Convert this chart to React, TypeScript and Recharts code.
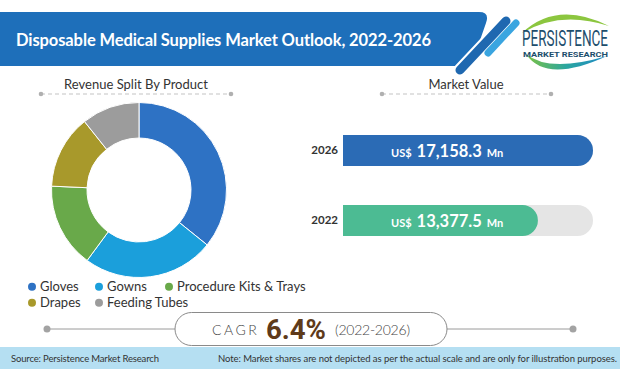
import React from 'react';
import { PieChart, Pie, Cell, BarChart, Bar, XAxis, YAxis, LabelList } from 'recharts';

const titleText = 'Disposable Medical Supplies Market Outlook, 2022-2026';
const pieTitle = 'Revenue Split By Product';
const barTitle = 'Market Value';

const products = ['Gloves', 'Gowns', 'Procedure Kits & Trays', 'Drapes', 'Feeding Tubes'];
const productShares = [35.8, 24.3, 15.6, 13.6, 10.7];
const productColors = ['#2e72c4', '#1b9fdb', '#69a94a', '#a8992b', '#9c9c9c'];

const years = ['2026', '2022'];
const marketValues = [17158.3, 13377.5];
const yearColors = ['#2b6bb5', '#4cbb93'];

const cagrLabel = 'CAGR';
const cagrValue = '6.4%';
const cagrPeriod = '(2022-2026)';
const sourceText = 'Source: Persistence Market Research';
const noteText =
  'Note: Market shares are not depicted as per the actual scale and are only for illustration purposes.';
const logoName = 'PERSISTENCE';
const logoSub = 'MARKET RESEARCH';

const pieData = products.map((name, i) => ({ name, value: productShares[i] }));
const barData = years.map((year, i) => ({ year, value: marketValues[i] }));

const FONT = 'Lato, "Open Sans", sans-serif';
const legendColX = [32, 99, 169];
const legendRowY = [286.7, 302.7];

const formatValue = (v: number) =>
  Number(v).toLocaleString('en-US', { minimumFractionDigits: 1, maximumFractionDigits: 1 });

const ValueLabel = (props: any) => {
  const { x, y, height, value } = props;
  const cy = Number(y) + Number(height) / 2;
  return (
    <text x={Number(x) + 48} y={cy + 6.5} fill="#fff" fontFamily={FONT} fontWeight={700}>
      <tspan fontSize={11}>US$</tspan>
      <tspan fontSize={16.5} dx={5}>{formatValue(value)}</tspan>
      <tspan fontSize={11} dx={5}>Mn</tspan>
    </text>
  );
};

export default function App() {
  return (
    <div
      style={{
        position: 'absolute',
        left: 0,
        top: 0,
        width: 620,
        height: 369,
        background: '#ffffff',
        overflow: 'hidden',
        fontFamily: FONT,
      }}
    >
      <svg width={620} height={369} style={{ position: 'absolute', left: 0, top: 0 }}>
        <defs>
          <linearGradient id="swoosh" x1="0" y1="0" x2="1" y2="0">
            <stop offset="0" stopColor="#7dc242" />
            <stop offset="0.5" stopColor="#2aa6a0" />
            <stop offset="1" stopColor="#1e88c7" />
          </linearGradient>
        </defs>
        {/* header banner */}
        <path d="M0,12 L479,12 Q490,12 486,23 L471,66 L0,66 Z" fill="#1e6fba" />
        <line x1={506} y1={21} x2={460} y2={70} stroke="#ffffff" strokeWidth={13} strokeLinecap="round" />
        <line x1={506} y1={21} x2={460} y2={70} stroke="#1f68b0" strokeWidth={9} strokeLinecap="round" />
        <line x1={516} y1={23} x2={488} y2={53} stroke="#3aa5e0" strokeWidth={7} strokeLinecap="round" />
        <text x={16} y={45.5} fill="#ffffff" fontSize={16.5} fontWeight={700} fontFamily={FONT} textLength={415}>
          {titleText}
        </text>
        {/* logo */}
        <path d="M522,33 Q557,0 609,26 Q560,10 522,33 Z" fill="#8cc63f" />
        <path d="M526,54 Q546,84 607,56 Q549,73 526,54 Z" fill="url(#swoosh)" />
        <g transform="translate(522,45.5) scale(1,1.7)">
          <text
            x={0}
            y={0}
            fill="#1d4e6d"
            fontSize={13}
            fontFamily="Roboto, sans-serif"
            textLength={86}
            lengthAdjust="spacingAndGlyphs"
          >
            {logoName}
          </text>
        </g>
        <text
          x={523}
          y={56.5}
          fill="#1d4e6d"
          fontSize={6.5}
          fontWeight={700}
          fontFamily="Roboto, sans-serif"
          textLength={85}
          lengthAdjust="spacingAndGlyphs"
        >
          {logoSub}
        </text>

        {/* section titles */}
        <text x={136} y={88.5} textAnchor="middle" fill="#333" fontSize={13} fontFamily={FONT}>
          {pieTitle}
        </text>
        <line x1={41} y1={94} x2={231} y2={94} stroke="#c4c4c4" strokeWidth={1.2} strokeDasharray="4 3" />
        <circle cx={41} cy={94} r={2.3} fill="#b0b0b0" />
        <circle cx={231} cy={94} r={2.3} fill="#b0b0b0" />

        <text x={466} y={88.5} textAnchor="middle" fill="#333" fontSize={13} fontFamily={FONT}>
          {barTitle}
        </text>
        <line x1={382} y1={94} x2={551} y2={94} stroke="#c4c4c4" strokeWidth={1.2} strokeDasharray="4 3" />
        <circle cx={382} cy={94} r={2.3} fill="#b0b0b0" />
        <circle cx={551} cy={94} r={2.3} fill="#b0b0b0" />

        {/* pie legend */}
        {products.map((name, i) => {
          const row = i < 3 ? 0 : 1;
          const col = i < 3 ? i : i - 3;
          const cx = legendColX[col];
          const cy = legendRowY[row];
          return (
            <g key={name}>
              <circle cx={cx} cy={cy} r={4} fill={productColors[i]} />
              <text x={cx + 8} y={cy + 4.2} fill="#333" fontSize={13} fontFamily={FONT}>
                {name}
              </text>
            </g>
          );
        })}

        {/* CAGR */}
        <line x1={47} y1={329} x2={175} y2={329} stroke="#9a9a9a" strokeWidth={1} />
        <line x1={447} y1={329} x2={573} y2={329} stroke="#9a9a9a" strokeWidth={1} />
        <circle cx={47} cy={329} r={3.5} fill="#a3a3a3" />
        <circle cx={573} cy={329} r={3.5} fill="#a3a3a3" />
        <rect x={175} y={312.5} width={272} height={33} rx={16.5} fill="#ffffff" stroke="#8a8a8a" strokeWidth={1} />
        <text x={212} y={335} fill="#444" fontSize={14} fontWeight={300} letterSpacing={2.5} fontFamily={FONT}>
          {cagrLabel}
        </text>
        <text
          x={266}
          y={338.5}
          fill="#5e3a1a"
          fontSize={28}
          fontWeight={700}
          fontFamily="Roboto, sans-serif"
          textLength={60}
          lengthAdjust="spacingAndGlyphs"
        >
          {cagrValue}
        </text>
        <text x={335} y={335} fill="#444" fontSize={14} fontWeight={300} fontFamily={FONT} textLength={75}>
          {cagrPeriod}
        </text>

        {/* footer */}
        <rect x={0} y={347} width={620} height={22} fill="#b5dff2" />
        <text x={11} y={362} fill="#333" fontSize={9.5} fontFamily={FONT} textLength={148}>
          {sourceText}
        </text>
        <text x={218} y={362} fill="#333" fontSize={9.5} fontFamily={FONT} textLength={399}>
          {noteText}
        </text>
      </svg>

      <div style={{ position: 'absolute', left: 39, top: 90, width: 200, height: 200 }}>
        <PieChart width={200} height={200} margin={{ top: 0, right: 0, bottom: 0, left: 0 }}>
          <Pie
            data={pieData}
            dataKey="value"
            nameKey="name"
            cx={100}
            cy={100}
            innerRadius={52}
            outerRadius={87.5}
            startAngle={90}
            endAngle={-270}
            stroke="#ffffff"
            strokeWidth={1}
            isAnimationActive={false}
          >
            {pieData.map((d, i) => (
              <Cell key={d.name} fill={productColors[i]} />
            ))}
          </Pie>
        </PieChart>
      </div>

      <div style={{ position: 'absolute', left: 300, top: 115, width: 300, height: 140 }}>
        <BarChart
          width={300}
          height={140}
          data={barData}
          layout="vertical"
          margin={{ top: 0, right: 7, bottom: 0, left: 0 }}
        >
          <XAxis type="number" domain={[0, 17158.3]} hide />
          <YAxis
            type="category"
            dataKey="year"
            width={43}
            axisLine={false}
            tickLine={false}
            tickSize={0}
            tickMargin={5}
            tick={{ fill: '#333', fontSize: 11.5, fontWeight: 700, fontFamily: FONT }}
          />
          <Bar
            dataKey="value"
            barSize={31}
            radius={[0, 15.5, 15.5, 0]}
            background={{ fill: '#e5e5e5', radius: 15.5 } as any}
            isAnimationActive={false}
          >
            {barData.map((d, i) => (
              <Cell key={d.year} fill={yearColors[i]} />
            ))}
            <LabelList dataKey="value" content={ValueLabel} />
          </Bar>
        </BarChart>
      </div>
    </div>
  );
}
